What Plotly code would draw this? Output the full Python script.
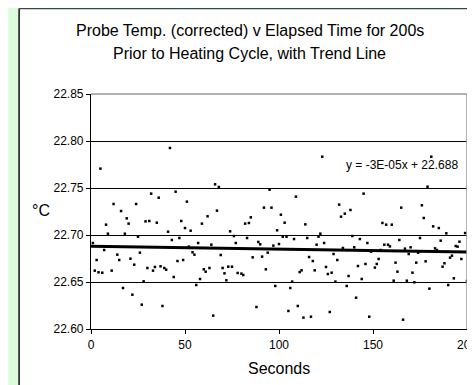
import plotly.graph_objects as go

# ---- data ----
seconds = [1, 2, 3, 4, 5, 6, 7, 8, 9, 11, 12, 14, 15, 16, 17, 18, 19, 20, 21, 22,
           23, 24, 25, 26, 27, 28, 29, 30, 31, 32, 33,
           34, 35, 36, 37, 38, 39, 40, 41, 42, 43, 44, 45, 46, 47, 48, 49, 50, 51, 52,
           53, 54, 55, 56, 57, 58, 59, 60, 61, 62, 63, 64, 65, 66, 67, 68, 69, 70, 71,
           72, 73, 74, 75, 76, 77, 78, 80, 81, 82, 83, 84, 85, 86, 88,
           89, 90, 91, 92, 93, 94, 95, 96, 97, 98, 99, 100, 101, 102, 103, 104, 105,
           106, 107, 108, 109, 110, 111, 112, 113, 114, 115, 116, 117, 118, 119, 120,
           121, 122, 123, 124, 125, 126, 127, 128, 129, 130, 131, 132, 133, 134, 135,
           136, 137, 138, 139, 140, 141, 142, 143,
           144, 145, 146, 147, 148, 149, 151, 152, 153, 154, 155, 156, 157, 158, 159,
           160, 161, 162, 163, 164, 165, 166, 167, 168, 169, 170, 171, 172, 173, 174,
           175, 176, 177, 178, 179, 180, 181, 182, 183, 184, 185, 186, 187, 188, 189,
           190, 191, 192, 193, 194, 195, 196, 197, 199, 200]

temps = [22.6915, 22.6621, 22.6734, 22.6603, 22.7706, 22.6599, 22.6840, 22.7110, 22.7014,
         22.6621, 22.7330, 22.6791, 22.6734, 22.7255, 22.6436, 22.7014, 22.7177, 22.7121,
         22.6748, 22.6365, 22.6684, 22.7330, 22.6982, 22.6812, 22.6259, 22.6507, 22.7145,
         22.6649, 22.7149, 22.7440, 22.6621,
         22.6660, 22.7131, 22.7397, 22.6667, 22.6245, 22.6649, 22.6631, 22.7035, 22.7926,
         22.6947, 22.6553, 22.7461, 22.6723, 22.6968, 22.7149, 22.6734, 22.7074, 22.7355,
         22.6876, 22.7046, 22.6816, 22.6791, 22.6468, 22.6915, 22.6532, 22.7121, 22.6635,
         22.6610, 22.7199, 22.6649, 22.6897, 22.6142, 22.7539, 22.7259, 22.7511, 22.6787,
         22.6649, 22.6592, 22.6518, 22.6663, 22.7039, 22.6663, 22.6989, 22.6915, 22.6596,
         22.6589, 22.6574, 22.7121, 22.6968, 22.7128, 22.7188, 22.6762, 22.6234,
         22.6926, 22.6901, 22.6770, 22.7291, 22.6635, 22.6812, 22.7482, 22.7291, 22.6887,
         22.6458, 22.7050, 22.6904, 22.7216, 22.6982, 22.7131, 22.6982, 22.6192, 22.6436,
         22.6504, 22.6957, 22.7408, 22.6245, 22.6606, 22.6624, 22.6121, 22.7113, 22.6968,
         22.6766, 22.6131, 22.6723, 22.6624, 22.6897, 22.6982, 22.7014, 22.7833, 22.6915,
         22.6660, 22.6585, 22.6181, 22.6599, 22.6798, 22.6504, 22.6734, 22.7323, 22.7195,
         22.6862, 22.7227, 22.6458, 22.6564, 22.7266, 22.6989, 22.6869, 22.6333, 22.6670,
         22.6957,
         22.6532, 22.7440, 22.6692, 22.6915, 22.6131, 22.6823, 22.6653, 22.6692, 22.6745,
         22.6840, 22.7128, 22.6897, 22.7110, 22.6897, 22.6879, 22.7110, 22.6514, 22.6706,
         22.6610, 22.6947, 22.7291, 22.6099, 22.6855, 22.6514, 22.6798, 22.6869, 22.6599,
         22.6497, 22.6706, 22.6812, 22.6968, 22.7316, 22.7181, 22.6720, 22.7514, 22.6429,
         22.7833, 22.7092, 22.6858, 22.6840, 22.7074, 22.6940, 22.6663, 22.6699, 22.7018,
         22.6468, 22.6759, 22.6780, 22.6539, 22.6883, 22.6876, 22.6929, 22.6745, 22.7021,
         22.6511]

trend_slope = -3e-05
trend_intercept = 22.688
trend_x = [0, 200]
trend_y = [trend_intercept + trend_slope * x for x in trend_x]

x_ticks = [0, 50, 100, 150, 200]
y_ticks = [22.60, 22.65, 22.70, 22.75, 22.80, 22.85]

title_lines = ["Probe Temp. (corrected) v Elapsed Time for 200s",
               "Prior to Heating Cycle, with Trend Line"]
equation_text = "y = -3E-05x + 22.688"

# ---- layout geometry (pixels) ----
W, H = 475, 385
L, R, T, B = 83, 6, 86, 64
PW, PH = W - L - R, H - T - B


def px(xp):
    return (xp - L) / PW


def py(yp):
    return (H - B - yp) / PH


FONT = "Liberation Sans, Arial, sans-serif"

fig = go.Figure()
fig.add_trace(go.Scatter(
    x=seconds, y=temps, mode="markers",
    marker=dict(symbol="square", size=2.5, color="black", line=dict(width=0)),
    showlegend=False, hoverinfo="x+y"))
fig.add_trace(go.Scatter(
    x=trend_x, y=trend_y, mode="lines",
    line=dict(color="black", width=3), showlegend=False, hoverinfo="skip"))

shapes = [
    dict(type="rect", xref="paper", yref="paper", x0=px(-2), x1=px(8.3),
         y0=py(H + 2), y1=py(-2), fillcolor="#dcfcdc", line=dict(width=0), layer="below"),
    dict(type="line", xref="paper", yref="paper", x0=px(9.2), x1=px(9.2),
         y0=py(H + 2), y1=py(0.5), line=dict(color="#333333", width=1.8)),
    dict(type="line", xref="paper", yref="paper", x0=px(9.2), x1=px(W + 2),
         y0=py(0.6), y1=py(0.6), line=dict(color="#3a4a3a", width=1.4)),
    dict(type="line", xref="paper", yref="paper", x0=0, x1=1, y0=1, y1=1,
         line=dict(color="#9a9a9a", width=1.5)),
    dict(type="line", xref="paper", yref="paper", x0=1, x1=1, y0=0, y1=1,
         line=dict(color="#9a9a9a", width=1.5)),
]

annotations = [
    dict(text=title_lines[0], xref="paper", yref="paper", x=px(246), y=py(22),
         xanchor="center", yanchor="middle", showarrow=False,
         font=dict(family=FONT, size=16, color="black")),
    dict(text=title_lines[1], xref="paper", yref="paper", x=px(246), y=py(46),
         xanchor="center", yanchor="middle", showarrow=False,
         font=dict(family=FONT, size=16, color="black")),
    dict(text="°C", xref="paper", yref="paper", x=px(32), y=py(202),
         xanchor="center", yanchor="middle", showarrow=False,
         font=dict(family=FONT, size=16, color="black")),
    dict(text="Seconds", xref="paper", yref="paper", x=px(276), y=py(360),
         xanchor="center", yanchor="middle", showarrow=False,
         font=dict(family=FONT, size=16, color="black")),
    dict(text=equation_text, xref="paper", yref="paper", x=px(402), y=py(157),
         xanchor="center", yanchor="middle", showarrow=False,
         font=dict(family=FONT, size=12, color="black")),
]

fig.update_layout(
    width=W, height=H,
    margin=dict(l=L, r=R, t=T, b=B, pad=0),
    paper_bgcolor="white", plot_bgcolor="white",
    font=dict(family=FONT, size=12, color="black"),
    shapes=shapes, annotations=annotations,
    showlegend=False,
)
fig.update_xaxes(
    range=[0, 200], tickvals=x_ticks, ticktext=[str(v) for v in x_ticks],
    ticks="outside", ticklen=4, tickwidth=1, tickcolor="black",
    showline=True, linecolor="black", linewidth=1.2, mirror=False,
    showgrid=False, zeroline=False, tickfont=dict(size=12),
    ticklabeloverflow="allow")
fig.update_yaxes(
    range=[22.60, 22.85], tickvals=y_ticks, ticktext=[f"{v:.2f}" for v in y_ticks],
    ticks="outside", ticklen=4, tickwidth=1, tickcolor="black",
    showline=True, linecolor="black", linewidth=1.2, mirror=False,
    showgrid=True, gridcolor="black", gridwidth=1, zeroline=False,
    tickfont=dict(size=12), ticklabeloverflow="allow")

fig.write_html("out.html")
